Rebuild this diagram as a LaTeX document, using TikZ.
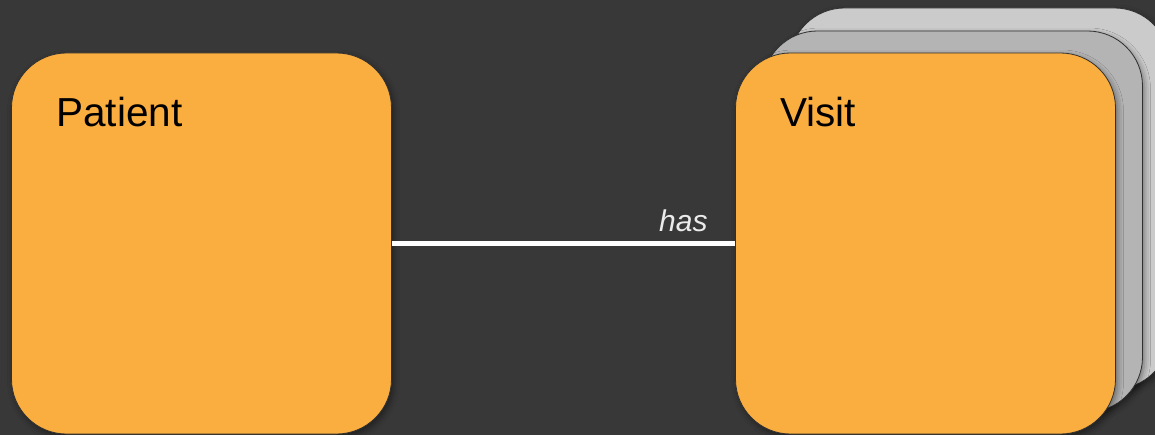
\documentclass[tikz,border=0pt]{standalone}
\usepackage{fontspec}
\setmainfont{Liberation Sans}
\usetikzlibrary{calc,shadows.blur}
\definecolor{bg}{HTML}{383838}
\definecolor{card}{HTML}{FAAE40}
\definecolor{backA}{HTML}{CBCBCB}
\definecolor{backB}{HTML}{B4B4B4}
\definecolor{edge}{HTML}{303030}
\begin{document}
\begin{tikzpicture}[x=1pt,y=-1pt,
  entity/.style={rectangle, rounded corners=55pt, minimum width=380pt,
    minimum height=381pt, inner sep=0pt, draw=edge, line width=0.8pt,
    blur shadow={shadow xshift=2pt, shadow yshift=-3pt,
      shadow blur radius=6pt, shadow opacity=45}},
  title/.style={anchor=base west, inner sep=0pt,
    font=\fontsize{40.5}{48}\selectfont, text=black},
  conn/.style={draw=white, line width=5pt},
  lbl/.style={font=\itshape\fontsize{30}{36}\selectfont,
    text=white!92!black, inner sep=0pt}]
  % canvas
  \fill[bg] (0,0) rectangle (1155,435);
  \useasboundingbox (0,0) rectangle (1155,435);

  % single entity
  \node[entity, fill=card] (patient) at (201.5,243.5) {};
  \node[title] (patient-title) at ($(patient.north west)+(45,74)$) {Patient};

  % stacked entity (many visits)
  \node[entity, fill=backA] (visit-back2) at (979.5,198.5) {};
  \node[entity, fill=backB] (visit-back1) at (952.5,221.5) {};
  \node[entity, fill=card] (visit) at (925.5,243.5) {};
  \node[title] (visit-title) at ($(visit.north west)+(45,74)$) {Visit};

  % relationship
  \draw[conn] (patient) -- node[lbl, pos=1, anchor=base east,
    xshift=-25pt, yshift=12pt] (has-label) {has} (visit);
\end{tikzpicture}
\end{document}
